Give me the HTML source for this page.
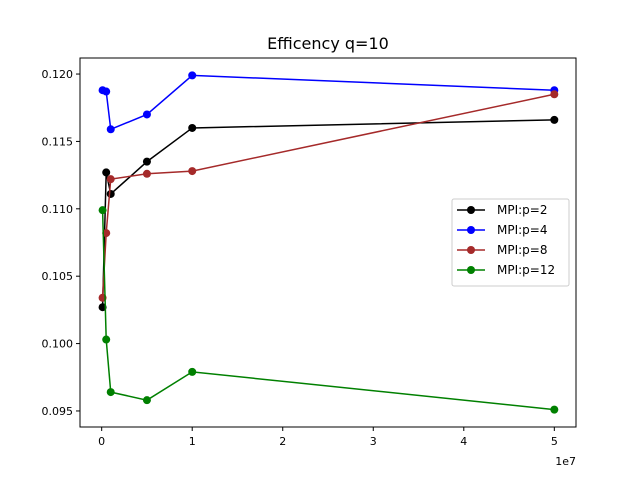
<!DOCTYPE html>
<html><head><meta charset="utf-8"><style>body{margin:0;background:#fff}svg{display:block;font-family:"DejaVu Sans","Liberation Sans",sans-serif}</style></head>
<body>
<svg id="chart" width="640" height="480" xmlns="http://www.w3.org/2000/svg">
<rect width="640" height="480" fill="#fff"/>
<text x="328" y="49" font-size="16" text-anchor="middle">Efficency q=10</text>
<g id="plot"></g>
<rect x="80" y="58" width="496" height="369" fill="none" stroke="#000" stroke-width="1"/>
</svg>
<script>
const xValues=[1e5,5e5,1e6,5e6,1e7,5e7];
const seriesNames=["MPI:p=2","MPI:p=4","MPI:p=8","MPI:p=12"];
const seriesColors=["#000000","#0000ff","#a52a2a","#008000"];
const p2=[0.1027,0.1127,0.1111,0.1135,0.1160,0.1166];
const p4=[0.1188,0.1187,0.1159,0.1170,0.1199,0.1188];
const p8=[0.1034,0.1082,0.1122,0.1126,0.1128,0.1185];
const p12=[0.1099,0.1003,0.0964,0.0958,0.0979,0.0951];
const xTicks=[0,1e7,2e7,3e7,4e7,5e7];
const xTickLabels=["0","1","2","3","4","5"];
const yTicks=[0.095,0.100,0.105,0.110,0.115,0.120];
const yTickLabels=["0.095","0.100","0.105","0.110","0.115","0.120"];
const NS="http://www.w3.org/2000/svg";
const L=80,R=576,T=58,B=427;
const xmin=-0.2395e7,xmax=5.2395e7,ymin=0.09381,ymax=0.12119;
const sx=v=>L+(v-xmin)/(xmax-xmin)*(R-L);
const sy=v=>B-(v-ymin)/(ymax-ymin)*(B-T);
const g=document.getElementById('plot');
function mk(tag,attrs){const e=document.createElementNS(NS,tag);for(const k in attrs)e.setAttribute(k,attrs[k]);return e;}
xTicks.forEach((t,i)=>{
const x=sx(t);
const ln=mk('line',{x1:x,x2:x,y1:B,y2:B+4,stroke:'#000'});


g.appendChild(ln);
const tx=mk('text',{x:x,y:B+18,'font-size':11,'text-anchor':'middle'});


tx.textContent=xTickLabels[i];g.appendChild(tx);
});
const off=mk('text',{x:576,y:465,'font-size':11,'text-anchor':'end'});


off.textContent='1e7';g.appendChild(off);
yTicks.forEach((t,i)=>{
const y=sy(t);
const ln=mk('line',{x1:L-4,x2:L,y1:y,y2:y,stroke:'#000'});


g.appendChild(ln);
const tx=mk('text',{x:L-7,y:y+4,'font-size':11,'text-anchor':'end'});


tx.textContent=yTickLabels[i];g.appendChild(tx);
});
const all=[p2,p4,p8,p12];
all.forEach((s,si)=>{
const pts=s.map((v,i)=>sx(xValues[i])+','+sy(v)).join(' ');
const pl=mk('polyline',{points:pts,fill:'none',stroke:seriesColors[si],'stroke-width':1.5});


g.appendChild(pl);
s.forEach((v,i)=>{
const c=mk('circle',{cx:sx(xValues[i]),cy:sy(v),r:4,fill:seriesColors[si]});


g.appendChild(c);
});
});
const lg=mk('rect',{x:452,y:199,width:117,height:87,rx:2,fill:'#fff',stroke:'#ccc','fill-opacity':0.8});


g.appendChild(lg);
seriesNames.forEach((n,i)=>{
const y=210+i*20;
const ln=mk('line',{x1:457,x2:485,y1:y,y2:y,stroke:seriesColors[i],'stroke-width':1.5});


g.appendChild(ln);
const c=mk('circle',{cx:471,cy:y,r:4,fill:seriesColors[i]});


g.appendChild(c);
const tx=mk('text',{x:497,y:y+4,'font-size':12});


tx.textContent=n;g.appendChild(tx);
});
</script>
</body></html>
